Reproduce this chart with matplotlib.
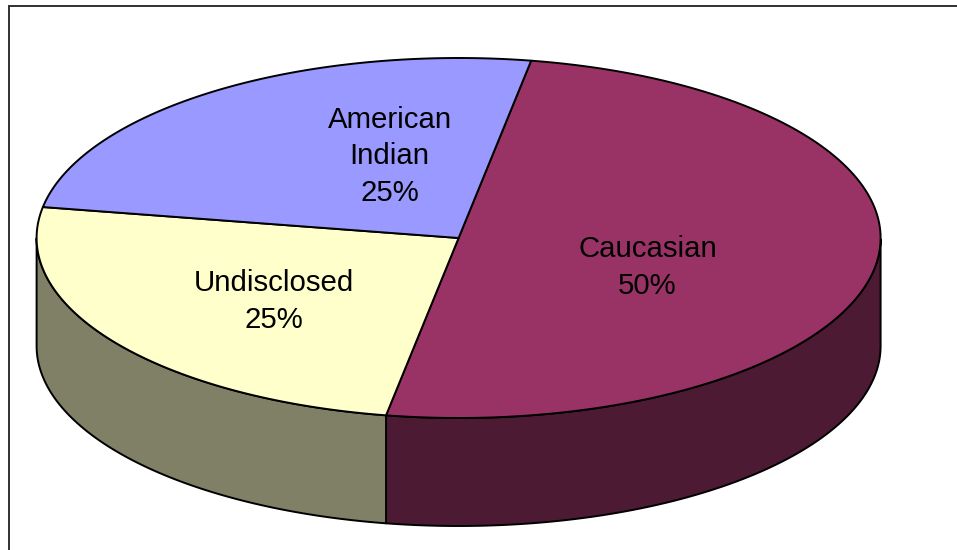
import numpy as np
import matplotlib
matplotlib.use("Agg")
import matplotlib.pyplot as plt
from matplotlib.patches import Polygon, Rectangle

categories = ["Caucasian", "Undisclosed", "American\nIndian"]
values = [50, 25, 25]
top_colors = ["#993366", "#FFFFCC", "#9999FF"]
side_colors = ["#4D1A33", "#808066", "#4D4D80"]

W, H = 957, 550
cx, cy, a, b, depth = 458.6, 238, 422, 180, 108
start = 80.1

plt.rcParams["font.family"] = ["Liberation Sans", "DejaVu Sans"]
fig = plt.figure(figsize=(W / 100, H / 100), dpi=100)
ax = fig.add_axes([0, 0, 1, 1])
ax.set_xlim(0, W)
ax.set_ylim(H, 0)
ax.axis("off")

# frame: only its top and left edges fall inside the picture
ax.add_patch(Rectangle((8.7, 5.8), 1000, 600, fc="white", ec="#303030", lw=1.4))


def pt(t):
    t = np.radians(t)
    return cx + a * np.cos(t), cy - b * np.sin(t)


# slices run clockwise from the start angle
edges = start - 360 * np.cumsum([0] + values) / sum(values)
for i in range(len(values)):
    t0, t1 = edges[i], edges[i + 1]
    # side wall: part of the arc on the front half of the ellipse (180..360 deg)
    ts = np.linspace(t1, t0, 200) % 360
    ts = ts[(ts >= 180)]
    if len(ts) > 1:
        ts = np.sort(ts)
        x, y = pt(ts)
        wall = np.r_[np.c_[x, y], np.c_[x[::-1], y[::-1] + depth]]
        ax.add_patch(Polygon(wall, closed=True, fc=side_colors[i], ec="black", lw=1.4, joinstyle="round", zorder=2))

for i in range(len(values)):
    t0, t1 = edges[i], edges[i + 1]
    ts = np.linspace(t0, t1, 200)
    x, y = pt(ts)
    poly = np.r_[[[cx, cy]], np.c_[x, y]]
    ax.add_patch(Polygon(poly, closed=True, fc=top_colors[i], ec="black", lw=1.4, joinstyle="round", zorder=3))

label_pos = [(647.5, 267.5), (273.5, 301.5), (389.5, 156.5)]
for name, v, (lx, ly) in zip(categories, values, label_pos):
    ax.text(lx, ly, f"{name}\n{v}%", ha="center", va="center", fontsize=21.2,
            linespacing=1.4, color="black", zorder=4)

fig.savefig("out.png", dpi=100)
